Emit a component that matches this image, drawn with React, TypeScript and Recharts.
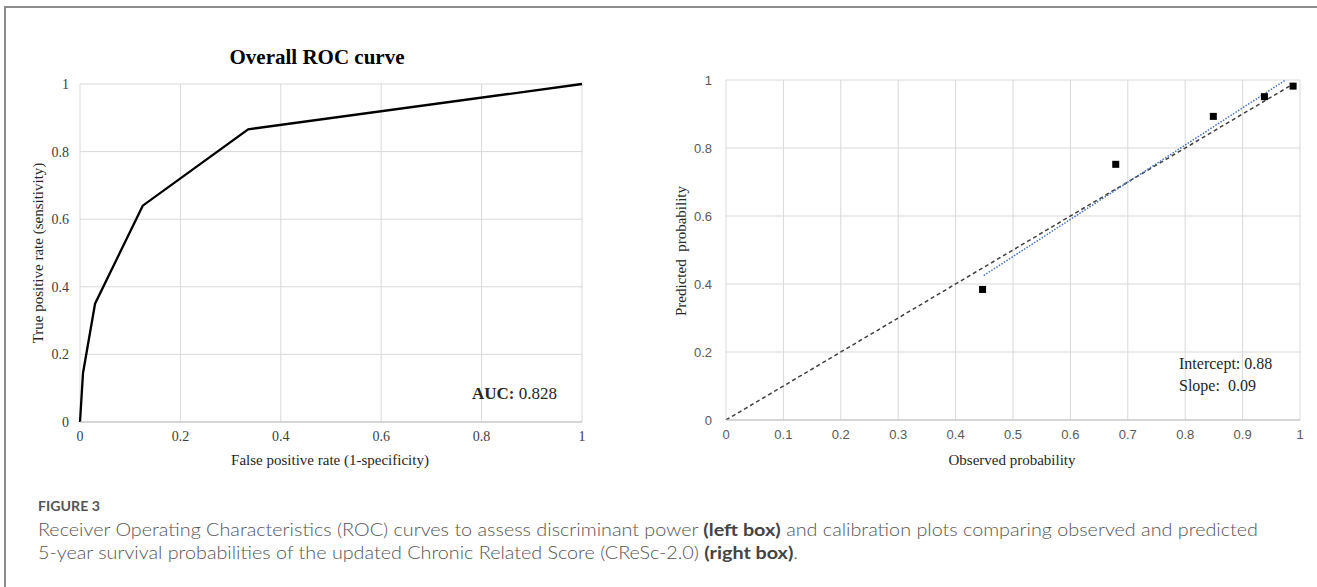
import React from 'react';
import { ComposedChart, Line, Scatter, XAxis, YAxis, CartesianGrid } from 'recharts';

// ROC curve (left box)
const rocFpr = [0, 0.006, 0.03, 0.125, 0.335, 1];
const rocTpr = [0, 0.145, 0.35, 0.64, 0.866, 1];
const rocTicks = [0, 0.2, 0.4, 0.6, 0.8, 1];

// Calibration plot (right box)
const observed = [0.447, 0.679, 0.849, 0.938, 0.988];
const predicted = [0.384, 0.752, 0.893, 0.951, 0.982];
const refX = [0, 0.99];
const refY = [0, 0.99];
const fitX = [0.449, 0.975];
const fitY = [0.425, 1.0];
const calXTicks = [0, 0.1, 0.2, 0.3, 0.4, 0.5, 0.6, 0.7, 0.8, 0.9, 1];
const calYTicks = [0, 0.2, 0.4, 0.6, 0.8, 1];

const SERIF = '"Liberation Serif", "Times New Roman", serif';
const SANS = 'Lato, "Open Sans", "Noto Sans", sans-serif';
const TICKSANS = '"Liberation Sans", Arial, sans-serif';

const rocData = rocFpr.map((x, i) => ({ x, y: rocTpr[i] }));
const calData = observed.map((x, i) => ({ x, y: predicted[i] }));
const refData = refX.map((x, i) => ({ x, y: refY[i] }));
const fitData = fitX.map((x, i) => ({ x, y: fitY[i] }));

const Square = (props: any) => {
  const { cx, cy } = props;
  if (cx == null || cy == null) return null;
  return <rect x={cx - 3.5} y={cy - 3.5} width={7} height={7} fill="#000" />;
};

export default function App() {
  return (
    <div style={{ position: 'absolute', left: 0, top: 0, width: 1317, height: 587, background: '#fff', overflow: 'hidden' }}>
      <div style={{ position: 'absolute', left: 4, top: 6, width: 1400, height: 700, borderLeft: '2px solid #8c8c8c', borderTop: '2px solid #8c8c8c' }} />

      <div style={{ position: 'absolute', left: 0, top: 0 }}>
        <ComposedChart width={660} height={480} margin={{ top: 84, right: 78, bottom: 28, left: 50 }} data={rocData}>
          <CartesianGrid stroke="#d9d9d9" strokeWidth={1} />
          <XAxis
            type="number"
            dataKey="x"
            domain={[0, 1]}
            ticks={rocTicks}
            interval={0}
            tickLine={false}
            axisLine={{ stroke: '#bfbfbf' }}
            height={30}
            tickMargin={3}
            tick={{ fill: '#404040', fontSize: 14, fontFamily: SERIF }}
          />
          <YAxis
            type="number"
            domain={[0, 1]}
            ticks={rocTicks}
            interval={0}
            tickLine={false}
            axisLine={false}
            width={30}
            tickMargin={5}
            tick={{ fill: '#404040', fontSize: 14, fontFamily: SERIF }}
          />
          <Line type="linear" dataKey="y" stroke="#000" strokeWidth={2.3} dot={false} isAnimationActive={false} />
        </ComposedChart>
      </div>

      <div style={{ position: 'absolute', left: 660, top: 0 }}>
        <ComposedChart width={657} height={480} margin={{ top: 80, right: 17, bottom: 30, left: 36 }}>
          <CartesianGrid stroke="#d9d9d9" strokeWidth={1} />
          <XAxis
            type="number"
            dataKey="x"
            domain={[0, 1]}
            ticks={calXTicks}
            interval={0}
            tickLine={false}
            axisLine={{ stroke: '#bfbfbf' }}
            height={30}
            tickMargin={4}
            tick={{ fill: '#595959', fontSize: 13, fontFamily: TICKSANS }}
          />
          <YAxis
            type="number"
            domain={[0, 1]}
            ticks={calYTicks}
            interval={0}
            tickLine={false}
            axisLine={false}
            width={30}
            tickMargin={8}
            allowDataOverflow
            tick={{ fill: '#595959', fontSize: 13, fontFamily: TICKSANS }}
          />
          <Line data={refData} type="linear" dataKey="y" stroke="#404040" strokeWidth={1.5} strokeDasharray="4 3" dot={false} isAnimationActive={false} />
          <Line data={fitData} type="linear" dataKey="y" stroke="#4472c4" strokeWidth={1.5} strokeDasharray="1.5 1.5" dot={false} isAnimationActive={false} />
          <Scatter data={calData} dataKey="y" shape={Square} isAnimationActive={false} />
        </ComposedChart>
      </div>

      <svg width={1317} height={587} style={{ position: 'absolute', left: 0, top: 0, pointerEvents: 'none' }}>
        <text x={317} y={57} textAnchor="middle" dominantBaseline="central" fontFamily={SERIF} fontWeight="bold" fontSize={21} fill="#000">Overall ROC curve</text>
        <text x={38} y={253} transform="rotate(-90 38 253)" textAnchor="middle" dominantBaseline="central" fontFamily={SERIF} fontSize={15} fill="#262626">True positive rate (sensitivity)</text>
        <text x={330} y={460} textAnchor="middle" dominantBaseline="central" fontFamily={SERIF} fontSize={15} fill="#262626">False positive rate (1-specificity)</text>
        <text x={472} y={393} dominantBaseline="central" fontFamily={SERIF} fontSize={17} fill="#262626"><tspan fontWeight="bold">AUC:</tspan> 0.828</text>

        <text x={681} y={251} transform="rotate(-90 681 251)" textAnchor="middle" dominantBaseline="central" fontFamily={SERIF} fontSize={15} fill="#262626" style={{ whiteSpace: 'pre' }}>Predicted  probability</text>
        <text x={1012} y={460} textAnchor="middle" dominantBaseline="central" fontFamily={SERIF} fontSize={15} fill="#262626">Observed probability</text>
        <text x={1179} y={363} dominantBaseline="central" fontFamily={SERIF} fontSize={16} fill="#262626">Intercept: 0.88</text>
        <text x={1179} y={385} dominantBaseline="central" fontFamily={SERIF} fontSize={16} fill="#262626" style={{ whiteSpace: 'pre' }}>Slope:  0.09</text>

        <text x={38} y={511} fontFamily={SANS} fontWeight={700} fontSize={13} fill="#555" textLength={62} lengthAdjust="spacingAndGlyphs">FIGURE 3</text>
        <text x={38} y={536} fontFamily={SANS} fontWeight={300} fontSize={17} fill="#555" textLength={1220} lengthAdjust="spacingAndGlyphs">
          Receiver Operating Characteristics (ROC) curves to assess discriminant power <tspan fontWeight={700} fill="#444">(left box)</tspan> and calibration plots comparing observed and predicted
        </text>
        <text x={38} y={559} fontFamily={SANS} fontWeight={300} fontSize={17} fill="#555" textLength={760} lengthAdjust="spacingAndGlyphs">
          5-year survival probabilities of the updated Chronic Related Score (CReSc-2.0) <tspan fontWeight={700} fill="#444">(right box)</tspan>.
        </text>
      </svg>
    </div>
  );
}
